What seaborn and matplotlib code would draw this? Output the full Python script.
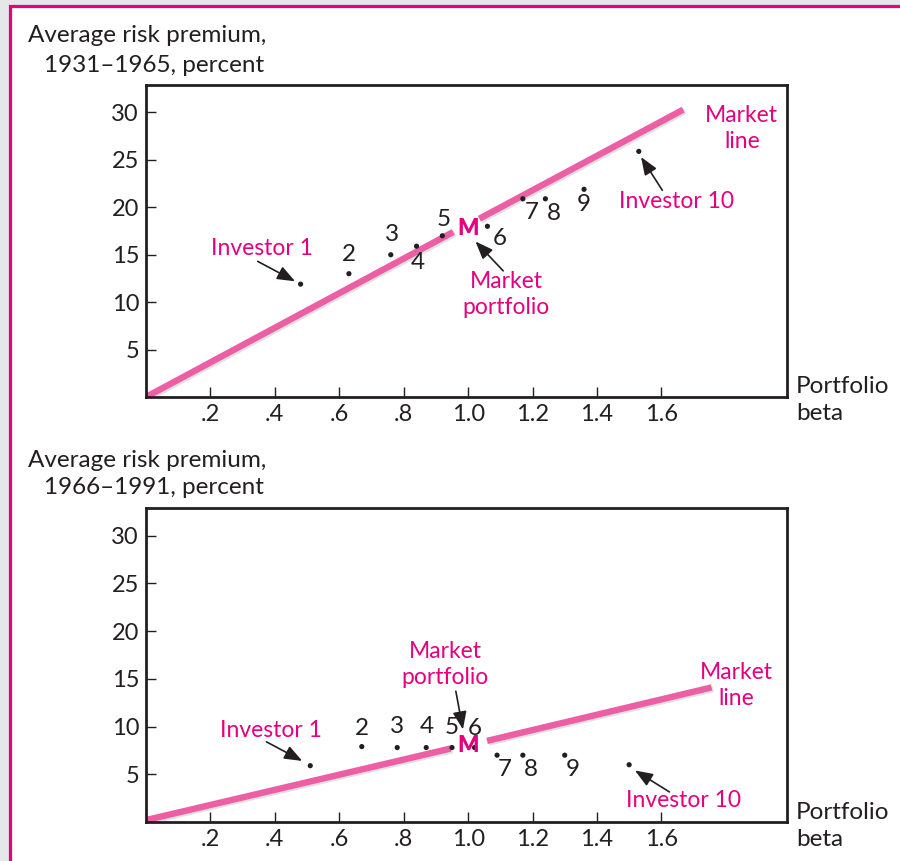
import matplotlib
matplotlib.use("Agg")
import matplotlib.pyplot as plt
import matplotlib.patheffects as pe
from matplotlib.patches import Rectangle
import pandas as pd
import seaborn as sns

# portfolio data
portfolios = ["1", "2", "3", "4", "5", "6", "7", "8", "9", "10"]
beta_1931 = [0.48, 0.63, 0.76, 0.84, 0.92, 1.06, 1.17, 1.24, 1.36, 1.53]
premium_1931 = [11.9, 13.0, 15.0, 15.9, 17.0, 18.0, 20.9, 20.9, 21.9, 25.9]
beta_1966 = [0.51, 0.67, 0.78, 0.87, 0.95, 1.02, 1.09, 1.17, 1.30, 1.50]
premium_1966 = [5.9, 7.9, 7.8, 7.8, 7.8, 7.8, 7.0, 7.0, 7.0, 6.0]

# market line, drawn in two pieces around the "M" label
line_beta_1931 = [[0.0, 0.954], [1.035, 1.668]]
line_premium_1931 = [[0.0, 17.4], [18.8, 30.3]]
line_beta_1966 = [[0.0, 0.946], [1.059, 1.756]]
line_premium_1966 = [[0.2, 7.7], [8.5, 14.1]]

market_beta = 1.0
market_premium_1931 = 17.8
market_premium_1966 = 8.0

x_ticks = [0.2, 0.4, 0.6, 0.8, 1.0, 1.2, 1.4, 1.6]
x_tick_labels = [".2", ".4", ".6", ".8", "1.0", "1.2", "1.4", "1.6"]
y_ticks = [5, 10, 15, 20, 25, 30]

PINK_TEXT = "#e5007d"
PINK_LINE = "#ec5fa5"
DARK = "#231f20"

sns.set_theme(style="white")
plt.rcParams["font.family"] = ["Lato", "DejaVu Sans"]
plt.rcParams["text.color"] = DARK

fig = plt.figure(figsize=(9, 8.61), dpi=100, facecolor="#e6e7e8")
fig.patches.append(Rectangle((0.0106, -0.2), 1.2, 1.1925, transform=fig.transFigure,
                             facecolor="white", edgecolor=PINK_TEXT, linewidth=2.3, zorder=-10))


def px(v):
    return v * 0.72


def draw_panel(ax, betas, prems, lbetas, lprems, m_prem, num_offsets):
    df = pd.DataFrame({"beta": betas, "premium": prems, "portfolio": portfolios})
    for xs, ys in zip(lbetas, lprems):
        seg = pd.DataFrame({"beta": xs, "premium": ys})
        sns.lineplot(data=seg, x="beta", y="premium", ax=ax, color=PINK_LINE, lw=4.6,
                     solid_capstyle="butt", zorder=2,
                     path_effects=[pe.SimpleLineShadow(offset=(1.2, -1.2), shadow_color="#777777", alpha=0.22),
                                   pe.Normal()])
    sns.scatterplot(data=df, x="beta", y="premium", ax=ax, color=DARK, s=14,
                    edgecolor="none", zorder=3)
    for i, (b, p) in enumerate(zip(betas, prems)):
        if i == 0 or i == 9:
            continue
        dx, dy = num_offsets[i]
        ax.annotate(portfolios[i], (b, p), xytext=(px(dx), px(dy)), textcoords="offset points",
                    ha="center", va="center", fontsize=17.5, color=DARK, zorder=4)
    ax.text(market_beta, m_prem, "M", ha="center", va="center", fontsize=16,
            fontweight="heavy", color=PINK_TEXT, zorder=4)

    ax.set_facecolor("white")
    ax.set_xlim(0, 1.99)
    ax.set_ylim(0, 32.9)
    ax.set_xticks(x_ticks)
    ax.set_xticklabels(x_tick_labels)
    ax.set_yticks(y_ticks)
    ax.set_xlabel("")
    ax.set_ylabel("")
    ax.tick_params(direction="in", length=7, width=1.0, color=DARK,
                   labelsize=17, labelcolor=DARK, pad=5)
    ax.tick_params(bottom=True, left=True)
    for s in ax.spines.values():
        s.set_color(DARK)
        s.set_linewidth(2.0)
        s.set_visible(True)
    if ax.get_legend():
        ax.get_legend().remove()


def pink(ax, txt, xy):
    ax.text(xy[0], xy[1], txt, ha="center", va="center", fontsize=16.5,
            color=PINK_TEXT, linespacing=1.3)


def arrow(ax, start, end):
    ax.annotate("", xy=end, xytext=start,
                arrowprops=dict(arrowstyle="-|>,head_length=0.9,head_width=0.35",
                                color=DARK, lw=1.2, shrinkA=0, shrinkB=0))


ax1 = fig.add_axes([0.1622, 0.5389, 0.7122, 0.3624])
offsets_1931 = [(0, 0), (0, 19), (1, 20), (1, -16), (1, 16), (12, -12), (8.5, -14),
                (8, -14.6), (0, -15), (0, 0)]
draw_panel(ax1, beta_1931, premium_1931, line_beta_1931, line_premium_1931,
           market_premium_1931, offsets_1931)
pink(ax1, "Investor 1", (0.361, 15.7))
arrow(ax1, (0.347, 14.3), (0.463, 12.2))
pink(ax1, "Market\nportfolio", (1.118, 10.8))
arrow(ax1, (1.109, 13.3), (1.023, 16.4))
pink(ax1, "Investor 10", (1.648, 20.6))
arrow(ax1, (1.603, 21.8), (1.537, 25.3))
pink(ax1, "Market\nline", (1.85, 28.3))

ax2 = fig.add_axes([0.1622, 0.0453, 0.7122, 0.3647])
offsets_1966 = [(0, 0), (0, 18), (0, 20.6), (1, 20.6), (0, 19.6), (0, 19.3), (8, -14.7),
                (8, -14.7), (8, -14.7), (0, 0)]
draw_panel(ax2, beta_1966, premium_1966, line_beta_1966, line_premium_1966,
           market_premium_1966, offsets_1966)
pink(ax2, "Investor 1", (0.387, 9.6))
arrow(ax2, (0.374, 8.4), (0.485, 6.4))
pink(ax2, "Market\nportfolio", (0.929, 16.5))
arrow(ax2, (0.962, 13.7), (0.984, 9.7))
pink(ax2, "Investor 10", (1.670, 2.3))
arrow(ax2, (1.625, 3.15), (1.518, 5.4))
pink(ax2, "Market\nline", (1.834, 14.3))

# axis titles placed as in the original figure
for (y1, y2, period) in [(35, 65, "1931–1965"), (460, 488, "1966–1991")]:
    fig.text(28 / 900, 1 - y1 / 861, "Average risk premium,", ha="left", va="center",
             fontsize=17.5, color=DARK)
    fig.text(44 / 900, 1 - y2 / 861, f"{period}, percent", ha="left", va="center",
             fontsize=17.5, color=DARK)
for yc in [400, 826]:
    fig.text(796 / 900, 1 - yc / 861, "Portfolio\nbeta", ha="left", va="center",
             fontsize=17.5, color=DARK, linespacing=1.35)

fig.savefig("out.png", dpi=100, facecolor=fig.get_facecolor())
